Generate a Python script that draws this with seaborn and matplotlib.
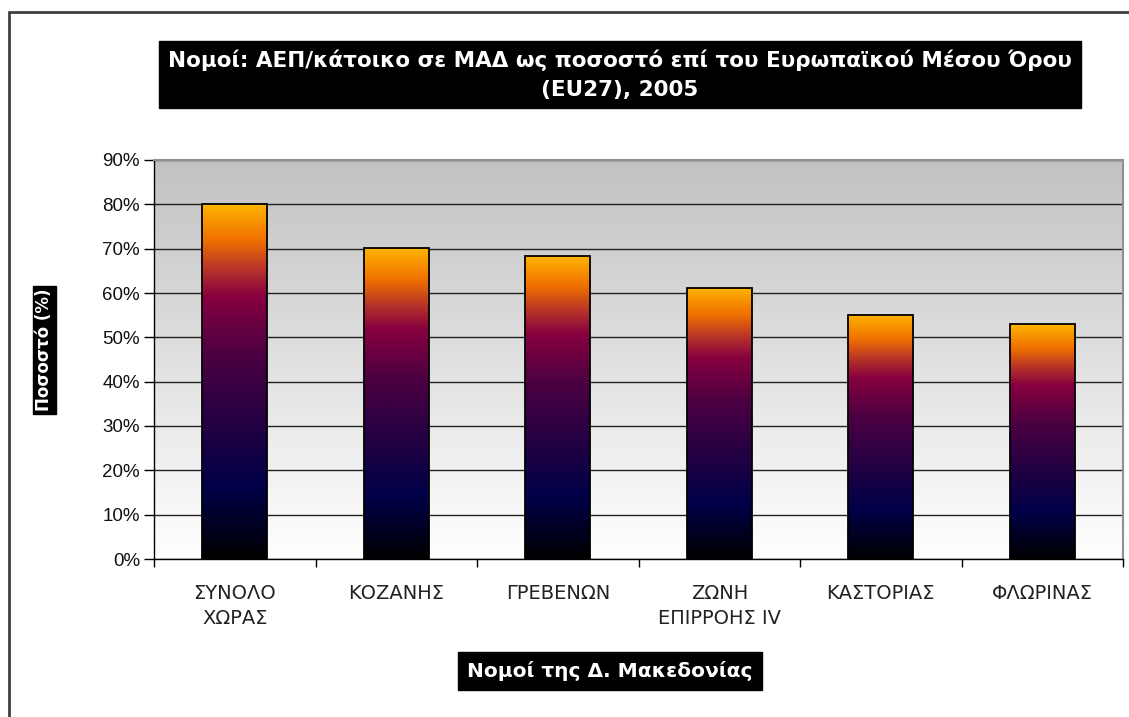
import numpy as np
import pandas as pd
import matplotlib
matplotlib.use("Agg")
import matplotlib.pyplot as plt
import seaborn as sns
from matplotlib.colors import LinearSegmentedColormap
from matplotlib.ticker import FixedLocator, PercentFormatter
from matplotlib.lines import Line2D

categories = ["ΣΥΝΟΛΟ\nΧΩΡΑΣ", "ΚΟΖΑΝΗΣ", "ΓΡΕΒΕΝΩΝ", "ΖΩΝΗ\nΕΠΙΡΡΟΗΣ IV", "ΚΑΣΤΟΡΙΑΣ", "ΦΛΩΡΙΝΑΣ"]
values = [80.0, 70.1, 68.4, 61.2, 55.1, 53.0]
y_ticks = [0, 10, 20, 30, 40, 50, 60, 70, 80, 90]
title = "Νομοί: ΑΕΠ/κάτοικο σε ΜΑΔ ως ποσοστό επί του Ευρωπαϊκού Μέσου Όρου\n(EU27), 2005"
xlabel = "Νομοί της Δ. Μακεδονίας"
ylabel = "Ποσοστό (%)"

sns.set_theme(style="white")
plt.rcParams['font.family'] = ['DejaVu Sans']

fig = plt.figure(figsize=(11.29, 7.17), dpi=100)
fig.patch.set_facecolor("white")
ax = fig.add_axes([154/1129, 1 - 559/717, (1123-154)/1129, (559-160)/717])

df = pd.DataFrame({"cat": categories, "val": values})
sns.barplot(data=df, x="cat", y="val", width=0.4, ax=ax,
            facecolor="none", edgecolor="black", linewidth=1.3, zorder=3)

# gradient fill for bars
bar_cmap = LinearSegmentedColormap.from_list("bar", [
    (0.0, "#000000"), (0.2, "#000048"), (0.4, "#260042"), (0.58, "#4c0042"),
    (0.74, "#870040"), (0.82, "#b83528"), (0.9, "#f07000"), (1.0, "#ffb400")])
grad = np.linspace(0, 1, 256).reshape(-1, 1)
for p in ax.patches:
    x0, w, h = p.get_x(), p.get_width(), p.get_height()
    im = ax.imshow(grad, cmap=bar_cmap, origin="lower", aspect="auto",
                   extent=[x0, x0 + w, 0, h], zorder=2, interpolation="bilinear")
    im.set_clip_path(p)

# background gradient
bg_cmap = LinearSegmentedColormap.from_list("bg", ["#ffffff", "#c2c2c2"])
ax.imshow(grad, cmap=bg_cmap, origin="lower", aspect="auto",
          extent=[0, 1, 0, 1], transform=ax.transAxes, zorder=0)

ax.set_xlim(-0.5, len(categories) - 0.5)
ax.set_ylim(0, 90)
ax.yaxis.set_major_locator(FixedLocator(y_ticks))
ax.yaxis.set_major_formatter(PercentFormatter(decimals=0))
ax.grid(axis="y", color="#222222", linewidth=1.0, zorder=1)
ax.set_axisbelow(True)

for s in ["top", "right"]:
    ax.spines[s].set_color("#909090")
    ax.spines[s].set_linewidth(1.5)
for s in ["left", "bottom"]:
    ax.spines[s].set_color("black")
    ax.spines[s].set_linewidth(1.0)

ax.tick_params(axis="y", which="major", direction="out", length=7, width=1,
               color="black", labelsize=13.5, labelcolor="#111111", pad=3, left=True)
for lab in ax.get_yticklabels():
    lab.set_fontfamily("Liberation Sans")

ax.set_xticks(range(len(categories)))
ax.set_xticklabels(categories, fontsize=14, color="#222222", linespacing=1.4,
                   fontfamily="DejaVu Sans")
ax.tick_params(axis="x", which="major", length=0, pad=18)
ax.set_xticks(np.arange(-0.5, len(categories), 1.0), minor=True)
ax.tick_params(axis="x", which="minor", direction="out", length=6, width=1,
               color="black", bottom=True)
ax.set_xlabel("")
ax.set_ylabel("")

# title box
fig.text(620/1129, 1 - 74.5/717, title, ha="center", va="center", fontsize=15.5,
         fontweight="bold", color="white", linespacing=1.55, fontfamily="DejaVu Sans",
         bbox=dict(facecolor="black", edgecolor="black", boxstyle="square,pad=0.4"))
# x label box
fig.text(610/1129, 1 - 671/717, xlabel, ha="center", va="center", fontsize=14.5,
         fontweight="bold", color="white", fontfamily="DejaVu Sans",
         bbox=dict(facecolor="black", edgecolor="black", boxstyle="square,pad=0.45"))
# y label box
fig.text(44/1129, 1 - 350/717, ylabel, ha="center", va="center", fontsize=12,
         fontweight="bold", color="white", rotation=90, fontfamily="DejaVu Sans",
         bbox=dict(facecolor="black", edgecolor="black", boxstyle="square,pad=0.15"))

# outer frame (top and left edges)
fig.add_artist(Line2D([9/1129, 1], [1 - 12/717, 1 - 12/717], transform=fig.transFigure,
                      color="#404040", linewidth=2))
fig.add_artist(Line2D([9/1129, 9/1129], [0, 1 - 12/717], transform=fig.transFigure,
                      color="#404040", linewidth=2))

fig.savefig("out.png", dpi=100)
